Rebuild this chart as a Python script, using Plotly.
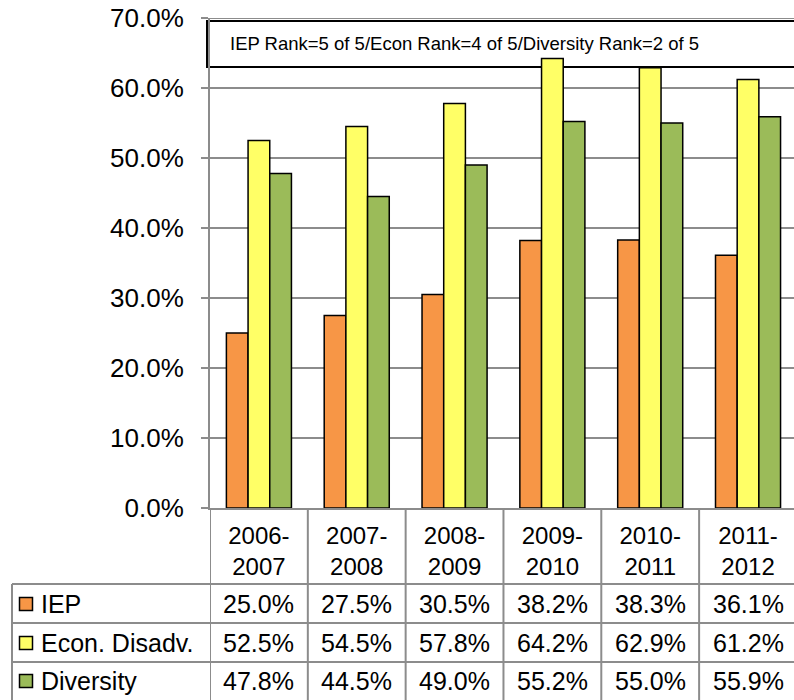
import plotly.graph_objects as go

# ---------------- data ----------------
categories = ["2006-2007", "2007-2008", "2008-2009", "2009-2010", "2010-2011", "2011-2012"]
series_names = ["IEP", "Econ. Disadv.", "Diversity"]
iep = [25.0, 27.5, 30.5, 38.2, 38.3, 36.1]
econ = [52.5, 54.5, 57.8, 64.2, 62.9, 61.2]
diversity = [47.8, 44.5, 49.0, 55.2, 55.0, 55.9]
y_tick_values = [0, 10, 20, 30, 40, 50, 60, 70]
title_text = "IEP Rank=5 of 5/Econ Rank=4 of 5/Diversity Rank=2 of 5"
colors = ["#F79646", "#FFFF66", "#9BBB59"]

series_values = [iep, econ, diversity]

W, H = 794, 700
FONT = "Liberation Sans, Arial, sans-serif"
GRID = "#8C8C8C"


def px(x):
    return x / W


def py(y):
    return 1 - y / H


fig = go.Figure()
for name, vals, col in zip(series_names, series_values, colors):
    fig.add_trace(go.Bar(
        x=categories, y=vals, name=name,
        marker=dict(color=col, line=dict(color="black", width=1.5)),
        showlegend=False, hoverinfo="skip",
    ))

shapes = []
annotations = []

# top gridline (edge of plot area)
shapes.append(dict(type="line", xref="paper", yref="y",
                   x0=px(203), x1=1, y0=max(y_tick_values), y1=max(y_tick_values),
                   line=dict(color=GRID, width=2), layer="below"))

# title box (drawn below bars)
shapes.append(dict(type="rect", xref="paper", yref="paper",
                   x0=px(207), x1=px(810), y0=py(67), y1=py(21),
                   line=dict(color="black", width=2), fillcolor="white", layer="below"))
annotations.append(dict(text=title_text, xref="paper", yref="paper",
                        x=px(464), y=py(44), xanchor="center", yanchor="middle",
                        showarrow=False, font=dict(size=18.5, color="black", family=FONT)))

# data table: vertical separators at category boundaries
for k in range(len(categories) + 1):
    shapes.append(dict(type="line", xref="x", yref="paper",
                       x0=k - 0.5, x1=k - 0.5, y0=py(508), y1=py(702),
                       line=dict(color=GRID, width=2)))
# left column border
shapes.append(dict(type="line", xref="paper", yref="paper",
                   x0=px(12), x1=px(12), y0=py(584), y1=py(702),
                   line=dict(color=GRID, width=2)))
# horizontal row lines
for yy in [584, 623, 662]:
    shapes.append(dict(type="line", xref="paper", yref="paper",
                       x0=px(12), x1=px(800), y0=py(yy), y1=py(yy),
                       line=dict(color=GRID, width=2)))

row_centers = [604, 643, 681]
for r, (name, vals, col) in enumerate(zip(series_names, series_values, colors)):
    yc = row_centers[r]
    # legend key square
    shapes.append(dict(type="rect", xref="paper", yref="paper",
                       x0=px(19.5), x1=px(32.5), y0=py(yc + 6.5), y1=py(yc - 6.5),
                       line=dict(color="black", width=1.5), fillcolor=col))
    annotations.append(dict(text=name, xref="paper", yref="paper",
                            x=px(39), y=py(yc), xanchor="left", yanchor="middle",
                            showarrow=False, font=dict(size=25, color="black", family=FONT)))
    for cat, v in zip(categories, vals):
        annotations.append(dict(text=f"{v:.1f}%", xref="x", yref="paper",
                                x=cat, y=py(yc), xanchor="center", yanchor="middle",
                                showarrow=False, font=dict(size=25, color="black", family=FONT)))

fig.update_layout(
    width=W, height=H,
    margin=dict(l=0, r=0, t=0, b=0),
    paper_bgcolor="white", plot_bgcolor="white",
    barmode="group", bargap=0.335, bargroupgap=0,
    shapes=shapes, annotations=annotations,
    font=dict(family=FONT, color="black"),
    xaxis=dict(
        domain=[px(210), 1],
        range=[-0.5, 5.47],
        tickmode="array", tickvals=categories,
        ticktext=[c.replace("-", "-<br>") for c in categories],
        tickfont=dict(size=24, family=FONT, color="black"),
        ticks="", showgrid=False,
        showline=True, linecolor=GRID, linewidth=2,
        ticklabelstandoff=5,
        automargin=False,
        fixedrange=True,
    ),
    yaxis=dict(
        domain=[py(508), py(18)],
        range=[0, 70.001],
        tickmode="array", tickvals=y_tick_values,
        ticktext=[f"{v:.1f}%" for v in y_tick_values],
        tickfont=dict(size=26, family=FONT, color="black"),
        ticks="outside", ticklen=7, tickcolor=GRID, tickwidth=2,
        ticklabelstandoff=12,
        ticklabeloverflow="allow",
        showgrid=True, gridcolor=GRID, gridwidth=2,
        showline=True, linecolor=GRID, linewidth=2,
        zeroline=False,
        automargin=False,
        fixedrange=True,
    ),
)

# remove the browser's default 8px page margin so the figure fills the window
fig.write_html("out.html", config={"displayModeBar": False},
               post_script="document.body.style.margin='0px';")
